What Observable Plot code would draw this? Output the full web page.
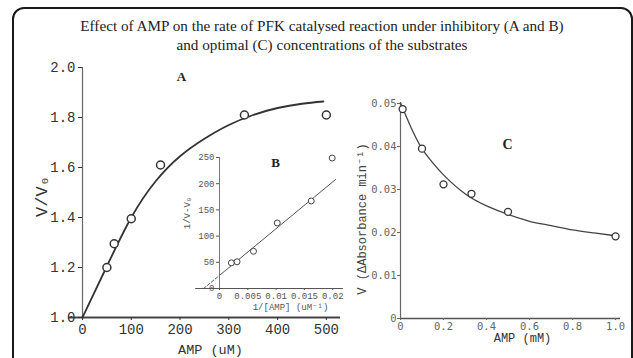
<!DOCTYPE html>
<html><head><meta charset="utf-8">
<script src="https://cdn.jsdelivr.net/npm/d3@7"></script>
<script src="https://cdn.jsdelivr.net/npm/@observablehq/plot@0.6"></script>
<style>
html,body{margin:0;padding:0;background:#fff;}
#root{position:relative;width:633px;height:358px;overflow:hidden;background:#fff;}
#frame{position:absolute;left:12px;top:7px;width:617px;height:420px;border:2px solid #1a1a1a;border-radius:12px;}
.tline{position:absolute;left:0;width:644px;text-align:center;font-family:"Liberation Serif","DejaVu Serif",serif;font-size:15.2px;line-height:19px;color:#222;white-space:nowrap;}
.panel{position:absolute;}
</style></head><body>
<div id="root">
<div id="frame"></div>
<div class="tline" style="top:16px">Effect of AMP on the rate of PFK catalysed reaction under inhibitory (A and B)</div>
<div class="tline" style="top:35px">and optimal (C) concentrations of the substrates</div>
<div id="pa" class="panel" style="left:0;top:0"></div>
<div id="pb" class="panel" style="left:170px;top:140px"></div>
<div id="pc" class="panel" style="left:340px;top:60px"></div>
</div>
<script>
// Panel A: V/V0 vs AMP (uM)
const ampA = [50, 65, 100, 160, 332, 500];
const ratioA = [1.20, 1.295, 1.395, 1.61, 1.81, 1.81];
const fitAmpA = [0, 50, 100, 150, 200, 250, 300, 350, 400, 450, 494];
const fitRatioA = [1.0, 1.205, 1.4, 1.545, 1.645, 1.715, 1.77, 1.81, 1.838, 1.855, 1.864];
const xTicksA = [0, 100, 200, 300, 400, 500];
const yTicksA = [1.0, 1.2, 1.4, 1.6, 1.8, 2.0];

// Panel B: double reciprocal
const invAmpB = [0.0021, 0.0031, 0.006, 0.0102, 0.0162, 0.0199];
const invDeltaB = [49, 51, 71, 125, 167, 249];
const fitInvAmpB = [0, 0.0205];
const fitInvDeltaB = [25, 208];
const extInvAmpB = [-0.0028, 0];
const extInvDeltaB = [0, 25];
const xTicksB = [0, 0.005, 0.01, 0.015, 0.02];
const yTicksB = [0, 50, 100, 150, 200, 250];

// Panel C: V vs AMP (mM)
const ampC = [0.01, 0.1, 0.2, 0.33, 0.5, 1.0];
const rateC = [0.0487, 0.0395, 0.0312, 0.029, 0.0248, 0.0191];
const fitAmpC = [0, 0.05, 0.1, 0.15, 0.2, 0.3, 0.4, 0.5, 0.6, 0.7, 0.8, 0.9, 0.99];
const fitRateC = [0.0502, 0.0443, 0.0395, 0.0362, 0.0334, 0.029, 0.0262, 0.0242, 0.0226, 0.0216, 0.0206, 0.0199, 0.0193];
const xTicksC = [0, 0.2, 0.4, 0.6, 0.8, 1.0];
const yTicksC = [0, 0.01, 0.02, 0.03, 0.04, 0.05];

const ptsA = ampA.map((x, i) => ({x, y: ratioA[i]}));
const fitA = fitAmpA.map((x, i) => ({x, y: fitRatioA[i]}));
const ptsB = invAmpB.map((x, i) => ({x, y: invDeltaB[i]}));
const fitB = fitInvAmpB.map((x, i) => ({x, y: fitInvDeltaB[i]}));
const extB = extInvAmpB.map((x, i) => ({x, y: extInvDeltaB[i]}));
const ptsC = ampC.map((x, i) => ({x, y: rateC[i]}));
const fitC = fitAmpC.map((x, i) => ({x, y: fitRateC[i]}));

const mono = "Liberation Mono, DejaVu Sans Mono, monospace";
const serif = "Liberation Serif, serif";

const chartA = Plot.plot({
  width: 360, height: 358,
  marginLeft: 82, marginRight: 20, marginTop: 67, marginBottom: 41,
  x: {domain: [0, 529]},
  y: {domain: [1.0, 2.0]},
  style: {background: "transparent", overflow: "visible"},
  marks: [
    Plot.ruleY([1.0], {x1: -29, x2: 529, stroke: "#444", strokeWidth: 1.8}),
    Plot.ruleX([0], {y1: 1.0, y2: 2.0, stroke: "#666", strokeWidth: 1.2}),
    Plot.axisX({ticks: xTicksA, tickSize: 3, tickPadding: 4, tickFormat: d => String(d), fontSize: 14, fontFamily: mono, color: "#333", label: null}),
    Plot.axisY({ticks: yTicksA, tickSize: 4, tickPadding: 3, tickFormat: d3.format(".1f"), fontSize: 14, fontFamily: mono, color: "#333", label: null}),
    Plot.text(["V/V₀"], {frameAnchor: "left", dx: -41, dy: 4, rotate: -90, textAnchor: "middle", lineAnchor: "middle", fontSize: 17, fontFamily: mono, fill: "#333"}),
    Plot.text(["AMP (uM)"], {frameAnchor: "bottom", dx: -1, dy: 32, textAnchor: "middle", lineAnchor: "middle", fontSize: 13.5, fontFamily: mono, fill: "#333"}),
    Plot.text(["A"], {frameAnchor: "top-left", dx: 99, dy: 9, textAnchor: "middle", lineAnchor: "middle", fontSize: 13, fontWeight: "bold", fontFamily: serif, fill: "#222"}),
    Plot.line(fitA, {x: "x", y: "y", curve: "natural", stroke: "#333", strokeWidth: 1.8}),
    Plot.dot(ptsA, {x: "x", y: "y", r: 4, stroke: "#333", fill: "white", strokeWidth: 1.5})
  ]
});
document.getElementById("pa").append(chartA);

const chartB = Plot.plot({
  width: 190, height: 175,
  marginLeft: 49, marginRight: 17, marginTop: 17, marginBottom: 27,
  x: {domain: [0, 0.0219]},
  y: {domain: [0, 250]},
  style: {background: "transparent", overflow: "visible"},
  marks: [
    Plot.ruleY([0], {x1: -0.0042, x2: 0.0219, stroke: "#555", strokeWidth: 1.2}),
    Plot.ruleX([0], {y1: 0, y2: 250, stroke: "#777", strokeWidth: 1}),
    Plot.axisX({ticks: xTicksB, tickSize: 2, tickPadding: 2, tickFormat: d => String(d), fontSize: 9, fontFamily: mono, color: "#555", label: null}),
    Plot.axisY({ticks: yTicksB, tickSize: 3, tickPadding: 2, tickFormat: d => String(d), fontSize: 9, fontFamily: mono, color: "#555", label: null}),
    Plot.text(["1/V-V₀"], {frameAnchor: "left", dx: -32, dy: -10, rotate: -90, textAnchor: "middle", lineAnchor: "middle", fontSize: 9, fontFamily: mono, fill: "#555"}),
    Plot.text(["1/[AMP] (uM⁻¹)"], {frameAnchor: "bottom", dx: 9, dy: 19, textAnchor: "middle", lineAnchor: "middle", fontSize: 9, fontFamily: mono, fill: "#555"}),
    Plot.text(["B"], {frameAnchor: "top-left", dx: 56, dy: 5, textAnchor: "middle", lineAnchor: "middle", fontSize: 13, fontWeight: "bold", fontFamily: serif, fill: "#222"}),
    Plot.line(extB, {x: "x", y: "y", stroke: "#555", strokeWidth: 1, strokeDasharray: "3,2"}),
    Plot.line(fitB, {x: "x", y: "y", stroke: "#555", strokeWidth: 1}),
    Plot.dot(ptsB, {x: "x", y: "y", r: 3, stroke: "#444", fill: "white", strokeWidth: 1})
  ]
});
document.getElementById("pb").append(chartB);

const chartC = Plot.plot({
  width: 293, height: 298,
  marginLeft: 60, marginRight: 13, marginTop: 43, marginBottom: 40,
  x: {domain: [0, 1.023]},
  y: {domain: [0, 0.05]},
  style: {background: "transparent", overflow: "visible"},
  marks: [
    Plot.ruleY([0], {stroke: "#555", strokeWidth: 1.3}),
    Plot.ruleX([0], {y1: 0, y2: 0.05, stroke: "#666", strokeWidth: 1.2}),
    Plot.axisX({ticks: xTicksC, tickSize: 2, tickPadding: 2, tickFormat: d => d === 0 ? "0" : d3.format(".1f")(d), fontSize: 10.5, fontFamily: "DejaVu Sans Mono, monospace", color: "#666", label: null}),
    Plot.axisY({ticks: yTicksC, tickSize: 3, tickPadding: 1, tickFormat: d => d === 0 ? "0" : d3.format(".2f")(d), fontSize: 10.5, fontFamily: "DejaVu Sans Mono, monospace", color: "#666", label: null}),
    Plot.text(["V (ΔAbsorbance min⁻¹)"], {frameAnchor: "left", dx: -38, dy: 8, rotate: -90, textAnchor: "middle", lineAnchor: "middle", fontSize: 12, fontFamily: mono, fill: "#444"}),
    Plot.text(["AMP (mM)"], {frameAnchor: "bottom", dx: 12, dy: 20, textAnchor: "middle", lineAnchor: "middle", fontSize: 12, fontFamily: mono, fill: "#333"}),
    Plot.text(["C"], {frameAnchor: "top-left", dx: 107, dy: 41, textAnchor: "middle", lineAnchor: "middle", fontSize: 14, fontWeight: "bold", fontFamily: serif, fill: "#222"}),
    Plot.line(fitC, {x: "x", y: "y", curve: "natural", stroke: "#444", strokeWidth: 1.3}),
    Plot.dot(ptsC, {x: "x", y: "y", r: 3.5, stroke: "#333", fill: "white", strokeWidth: 1.3})
  ]
});
document.getElementById("pc").append(chartC);
</script>
</body></html>
